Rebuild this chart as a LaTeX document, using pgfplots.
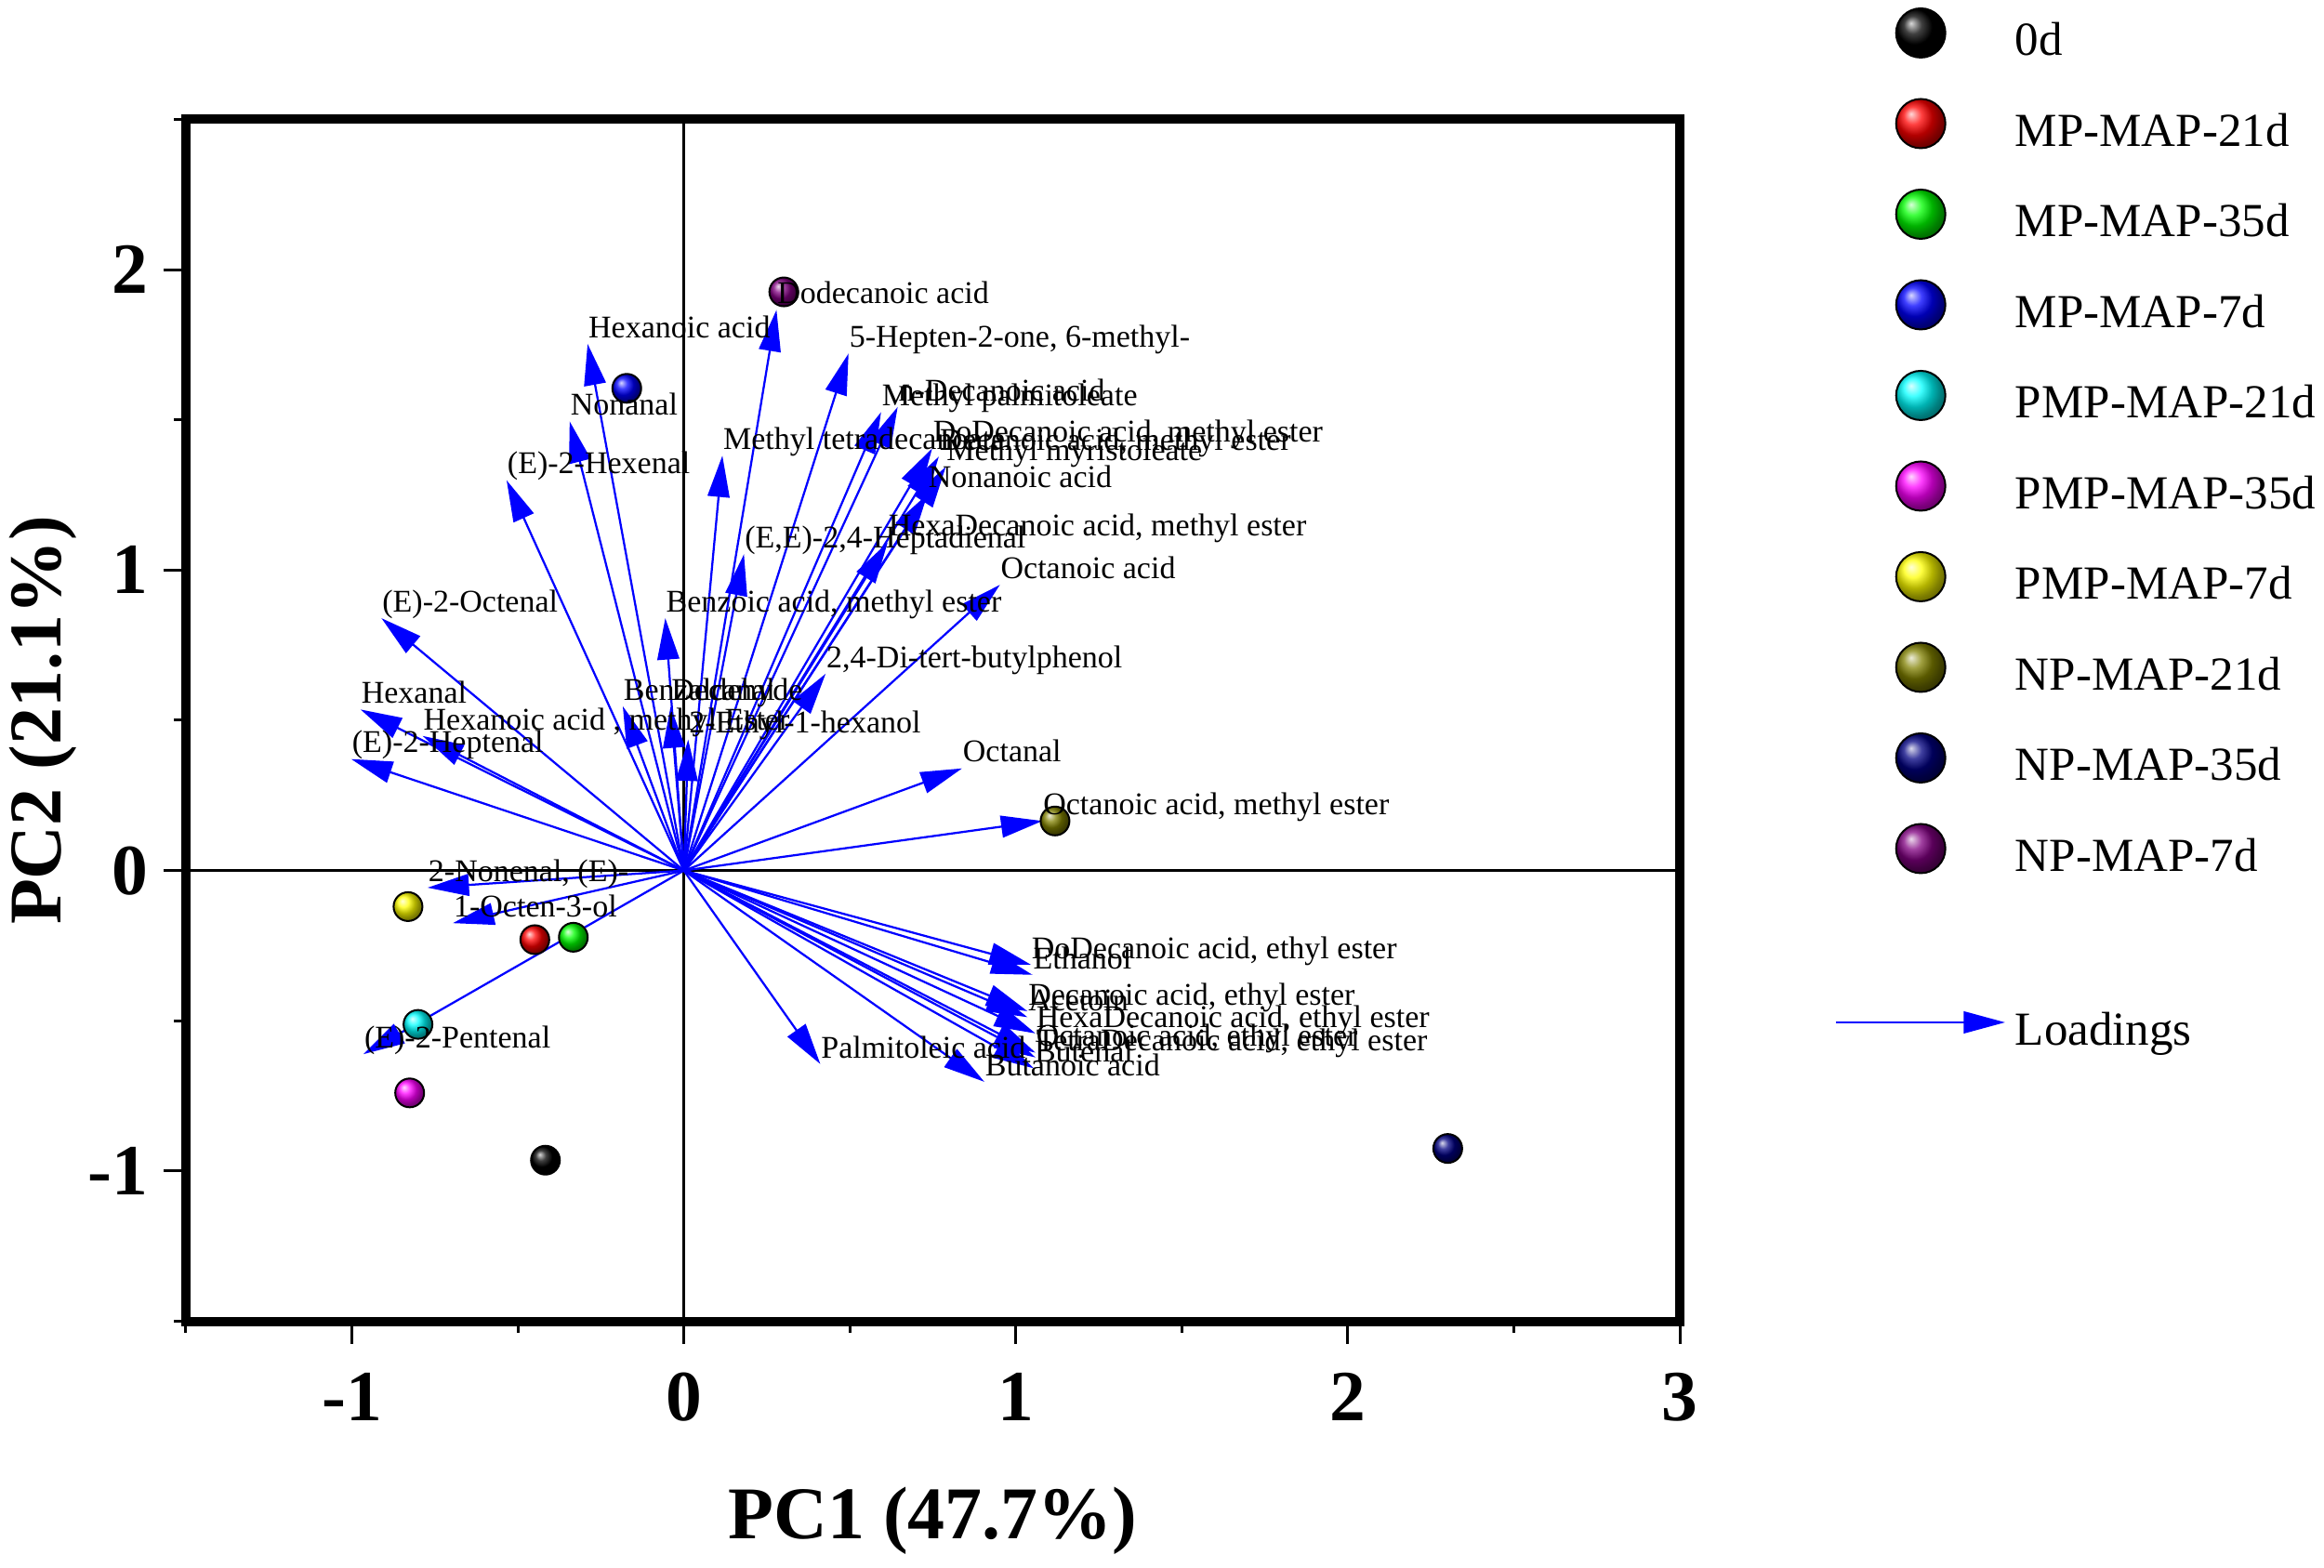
\documentclass[border=0pt]{standalone}
\usepackage{fontspec}
\setmainfont{Liberation Serif}
\usepackage{pgfplots}
\pgfplotsset{compat=1.18}
\usepackage{pgfplotstable}
\usetikzlibrary{arrows.meta}

\pgfplotstableread[col sep=semicolon]{
name;x;y
Dodecanoic acid;0.279;1.866
Hexanoic acid;-0.290;1.753
5-Hepten-2-one, 6-methyl-;0.496;1.721
Nonanal;-0.344;1.495
(E)-2-Hexenal;-0.534;1.299
Methyl tetradecanoate;0.116;1.381
Methyl palmitoleate;0.594;1.526
n-Decanoic acid;0.644;1.543
DoDecanoic acid, methyl ester;0.748;1.405
Decanoic acid, methyl ester;0.768;1.378
Methyl myristoleate;0.789;1.344
Nonanoic acid;0.734;1.253
HexaDecanoic acid, methyl ester;0.614;1.092
(E,E)-2,4-Heptadienal;0.181;1.053
Octanoic acid;0.952;0.951
Benzoic acid, methyl ester;-0.056;0.840
2,4-Di-tert-butylphenol;0.427;0.655
Benzaldehyde;-0.184;0.547
Decanal;-0.040;0.546
Hexanoic acid , methyl Ester;-0.787;0.448
2-Ethyl-1-hexanol;0.013;0.436
Octanal;0.838;0.340
Octanoic acid, methyl ester;1.080;0.165
(E)-2-Octenal;-0.911;0.840
Hexanal;-0.974;0.536
(E)-2-Heptenal;-1.002;0.371
2-Nonenal, (E)-;-0.772;-0.057
1-Octen-3-ol;-0.696;-0.175
(E)-2-Pentenal;-0.965;-0.611
Palmitoleic acid;0.411;-0.644
DoDecanoic acid, ethyl ester;1.045;-0.313
Ethanol;1.050;-0.347
Decanoic acid, ethyl ester;1.035;-0.468
Acetoin;1.035;-0.488
HexaDecanoic acid, ethyl ester;1.059;-0.542
TetraDecanoic acid, ethyl ester;1.059;-0.622
Octanoic acid, ethyl ester;1.059;-0.606
Butenal;1.054;-0.658
Butanoic acid;0.905;-0.703
}\loadings

\definecolor{olivec}{RGB}{128,128,0}
\definecolor{navyc}{RGB}{0,0,128}
\definecolor{purplec}{RGB}{128,0,128}

\newcommand\legbox{\pgfpathrectangle{\pgfpoint{0pt}{-5.3pt}}{\pgfpoint{38.5pt}{10.6pt}}\pgfusepath{discard}}
\newcommand\legboxshort{\pgfpathrectangle{\pgfpoint{0pt}{-4.8pt}}{\pgfpoint{38.5pt}{9.6pt}}\pgfusepath{discard}}

\pgfplotsset{
  legball/.style={legend image code/.code={%
    \legbox
    \draw[only marks, mark=ball, mark size=5.3pt, mark options={ball color=#1}] plot coordinates {(18.15pt,0pt)};}},
  score/.style={only marks, mark=ball, mark size=3.1pt, mark options={ball color=#1}, legball=#1},
}

\begin{document}
\begin{tikzpicture}
\useasboundingbox (0,0) rectangle (500pt,337.2pt);
\begin{axis}[
  at={(40pt,52.9pt)}, anchor=south west,
  scale only axis, width=321.4pt, height=258.6pt,
  xmin=-1.5, xmax=3, ymin=-1.5, ymax=2.5,
  clip=false,
  axis line style={line width=2pt},
  tick pos=left, tick align=outside,
  major tick length=4.8pt, minor tick length=2.5pt,
  every tick/.append style={black, line width=0.6pt},
  xtick={-1,0,1,2,3}, xticklabels={-1,0,1,2,3},
  minor xtick={-1.5,-0.5,0.5,1.5,2.5},
  ytick={-1,0,1,2}, yticklabels={-1,0,1,2},
  minor ytick={-1.5,-0.5,0.5,1.5,2.5},
  tick label style={font=\fontsize{15.5}{18}\selectfont\bfseries},
  xticklabel style={anchor=base, inner sep=0pt, yshift=-16.6pt},
  yticklabel style={anchor=east, inner sep=0pt, xshift=-3.1pt},
  xlabel={PC1 (47.7\%)}, ylabel={PC2 (21.1\%)},
  every axis x label/.style={at={(axis description cs:0.5,-0.1806)}, anchor=base,
    font=\fontsize{16}{19}\selectfont\bfseries},
  every axis y label/.style={at={(axis description cs:-0.084,0.5)}, rotate=90, anchor=base,
    font=\fontsize{16}{19}\selectfont\bfseries},
  legend style={at={(axis description cs:1.1035,1.094)}, anchor=north west,
    draw=none, fill=none, inner xsep=0pt, inner ysep=0pt,
    nodes={inner sep=0pt, text depth=0pt, yshift=-1.3pt},
    row sep=8.5pt, font=\fontsize{10.2}{12}\selectfont},
  legend cell align=left,
]
\addplot[black, line width=0.7pt, forget plot] coordinates {(-1.5,0) (3,0)};
\addplot[black, line width=0.7pt, forget plot] coordinates {(0,-1.5) (0,2.5)};

\addplot[score=black] coordinates {(-0.417,-0.964)};
\addlegendentry{0d}
\addplot[score=red] coordinates {(-0.449,-0.230)};
\addlegendentry{MP-MAP-21d}
\addplot[score=green] coordinates {(-0.333,-0.222)};
\addlegendentry{MP-MAP-35d}
\addplot[score=blue] coordinates {(-0.172,1.605)};
\addlegendentry{MP-MAP-7d}
\addplot[score=cyan] coordinates {(-0.801,-0.512)};
\addlegendentry{PMP-MAP-21d}
\addplot[score=magenta] coordinates {(-0.826,-0.740)};
\addlegendentry{PMP-MAP-35d}
\addplot[score=yellow] coordinates {(-0.831,-0.120)};
\addlegendentry{PMP-MAP-7d}
\addplot[score=olivec] coordinates {(1.118,0.165)};
\addlegendentry{NP-MAP-21d}
\addplot[score=navyc] coordinates {(2.301,-0.925)};
\addlegendentry{NP-MAP-35d}
\addplot[score=purplec] coordinates {(0.301,1.926)};
\addlegendentry{NP-MAP-7d}

\addlegendimage{legend image code/.code={\legboxshort}}
\addlegendentry{}

\addplot[blue, line width=0.45pt, -{Triangle[length=8.9pt,width=4.7pt]},
  quiver={u=\thisrow{x}, v=\thisrow{y}},
  legend image code/.code={\legbox
    \draw[blue, line width=0.45pt, -{Triangle[length=8.9pt,width=4.7pt]}] (0pt,0pt) -- (36.3pt,0pt);}]
  table[x expr=0, y expr=0] {\loadings};
\addlegendentry{Loadings}

\addplot[forget plot, only marks, mark=*, mark size=0pt, mark options={draw=none, fill=none},
  point meta=explicit symbolic, nodes near coords,
  nodes near coords align={anchor=base west},
  every node near coord/.append style={anchor=base west, inner sep=0pt, yshift=1.35pt,
    font=\fontsize{6.8}{8}\selectfont, text=black}]
  table[x=x, y=y, meta=name] {\loadings};
\end{axis}
\end{tikzpicture}
\end{document}
